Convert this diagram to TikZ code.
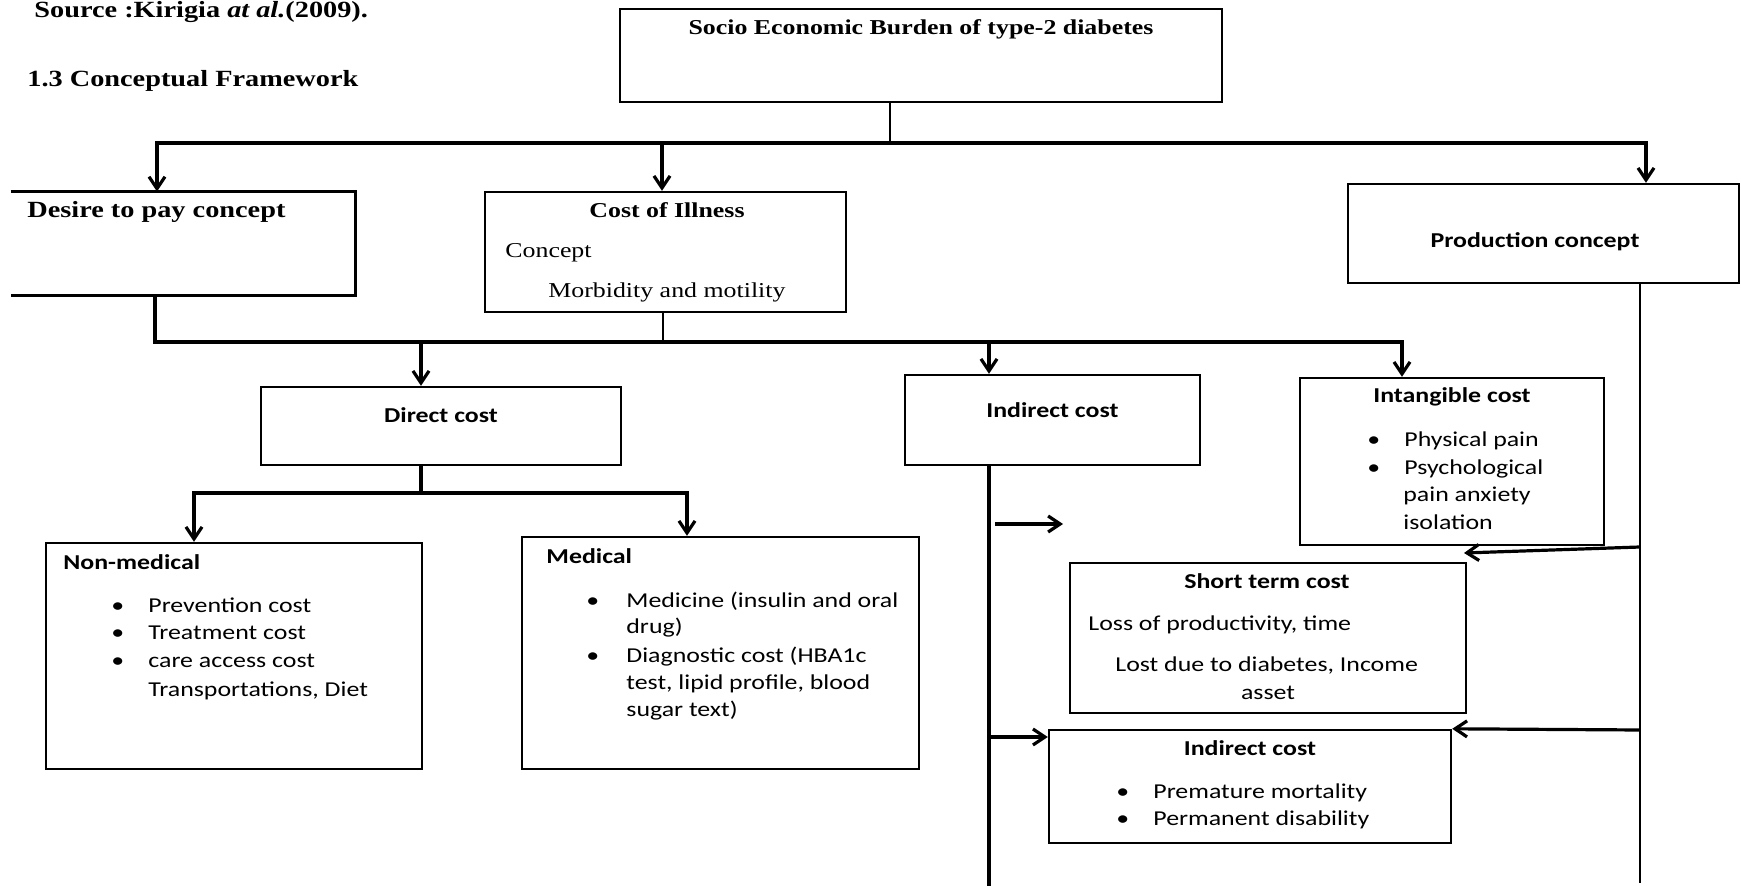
\documentclass[tikz,border=0pt]{standalone}
\usepackage{fontspec}
\setmainfont{Liberation Serif}[FakeStretch=1.22]
\setsansfont{Carlito}[FakeStretch=1.22]
\usetikzlibrary{arrows.meta,fit}
\tikzset{bx/.style={draw, line width=1.2pt, inner sep=0pt}}
\tikzset{ln/.style={draw, line width=1.8pt}}
\tikzset{tn/.style={draw, line width=1.2pt}}
\tikzset{ar/.style={draw, line width=1.6pt, line join=miter,
  -{Straight Barb[length=6pt,width=8pt]}}}
\tikzset{hd/.style={inner sep=0pt, font=\bfseries\fontsize{11.6}{14}\selectfont}}
\tikzset{sr/.style={inner sep=0pt, font=\fontsize{10.6}{12}\selectfont}}
\tikzset{srb/.style={inner sep=0pt, font=\bfseries\fontsize{10.6}{12}\selectfont}}
\tikzset{sf/.style={inner sep=0pt, font=\sffamily\fontsize{10.6}{12}\selectfont}}
\tikzset{sfb/.style={inner sep=0pt, font=\sffamily\bfseries\fontsize{10.6}{12}\selectfont}}
\newcommand{\itmdot}{\makebox[18.5pt][l]{\textbullet}}

\begin{document}
\begin{tikzpicture}[x=0.5pt, y=-0.5pt]
\useasboundingbox (0,0) rectangle (1741,886);
%% headings
\node (src) at (34,13) [hd, anchor=mid west] {Source :Kirigia \textit{at al.}(2009).};
\node (frame) at (27,82) [hd, anchor=mid west] {1.3 Conceptual Framework};
%% first level
\node (top) [bx, fit={(620,9) (1222,102)}] {};
\node (topT) at (921,30) [srb, anchor=mid] {Socio Economic Burden of type-2 diabetes};
\node (desire) [inner sep=0pt, fit={(11,192) (355,295)}] {};
\draw [tn] (desire.north west) -- (desire.north east) -- (desire.south east) -- (desire.south west);
\node (desireT) at (27,213) [hd, anchor=mid west] {Desire to pay concept};
\node (cost) [bx, fit={(485,192) (846,312)}] {};
\node (costT) at (667,213) [srb, anchor=mid] {Cost of Illness};
\node (costA) at (505,253) [sr, anchor=mid west] {Concept};
\node (costB) at (548,293) [sr, anchor=mid west] {Morbidity and motility};
\node (prod) [bx, fit={(1348,184) (1739,283)}] {};
\node (prodT) at (1535,243) [sfb, anchor=mid] {Production concept};
%% second level
\node (direct) [bx, fit={(261,387) (621,465)}] {};
\node (directT) at (441,418) [sfb, anchor=mid] {Direct cost};
\node (indirect) [bx, fit={(905,375) (1200,465)}] {};
\node (indirectT) at (986,413) [sfb, anchor=mid west] {Indirect cost};
\node (intang) [bx, fit={(1300,378) (1604,545)}] {};
\node (intangT) at (1452,398) [sfb, anchor=mid] {Intangible cost};
\node (intang1) at (1367,442) [sf, anchor=mid west] {\itmdot Physical pain};
\node (intang2) at (1367,470) [sf, anchor=mid west] {\itmdot Psychological};
\node (intang3) at (1403,497) [sf, anchor=mid west] {pain anxiety};
\node (intang4) at (1403,525) [sf, anchor=mid west] {isolation};
%% third level
\node (nonmed) [bx, fit={(46,543) (422,769)}] {};
\node (nonmedT) at (63,565) [sfb, anchor=mid west] {Non-medical};
\node (nonmed1) at (111,608) [sf, anchor=mid west] {\itmdot Prevention cost};
\node (nonmed2) at (111,635) [sf, anchor=mid west] {\itmdot Treatment cost};
\node (nonmed3) at (111,663) [sf, anchor=mid west] {\itmdot care access cost};
\node (nonmed4) at (148,692) [sf, anchor=mid west] {Transportations, Diet};
\node (medical) [bx, fit={(522,537) (919,769)}] {};
\node (medicalT) at (546,559) [sfb, anchor=mid west] {Medical};
\node (medical1) at (586,603) [sf, anchor=mid west] {\makebox[20pt][l]{\textbullet}Medicine (insulin and oral};
\node (medical2) at (626,629) [sf, anchor=mid west] {drug)};
\node (medical3) at (586,658) [sf, anchor=mid west] {\makebox[20pt][l]{\textbullet}Diagnostic cost (HBA1c};
\node (medical4) at (626,685) [sf, anchor=mid west] {test, lipid profile, blood};
\node (medical5) at (626,712) [sf, anchor=mid west] {sugar text)};
\node (short) [bx, fit={(1070,563) (1466,713)}] {};
\node (shortT) at (1267,584) [sfb, anchor=mid] {Short term cost};
\node (short1) at (1088,626) [sf, anchor=mid west] {Loss of productivity, time};
\node (short2) at (1115,667) [sf, anchor=mid west] {Lost due to diabetes, Income};
\node (short3) at (1268,695) [sf, anchor=mid] {asset};
\node (indir2) [bx, fit={(1049,730) (1451,843)}] {};
\node (indir2T) at (1250,751) [sfb, anchor=mid] {Indirect cost};
\node (indir21) at (1116,794) [sf, anchor=mid west] {\itmdot Premature mortality};
\node (indir22) at (1116,821) [sf, anchor=mid west] {\itmdot Permanent disability};
%% connectors
\coordinate (b0) at (890,143);
\coordinate (b1) at (157,143);
\coordinate (b2) at (1646,143);
\coordinate (b3) at (662,143);
\draw [tn] (top.south -| b0) -- (b0);
\draw [ar] (b0) -- (b1) -- (b1 |- desire.north);
\draw [ar] (b0) -- (b2) -- (b2 |- prod.north);
\draw [ar] (b3) -- (b3 |- cost.north);
%%
\coordinate (c0) at (663,342);
\coordinate (c1) at (155,342);
\coordinate (c2) at (1402,342);
\coordinate (c3) at (421,342);
\coordinate (c4) at (989,342);
\draw [tn] (cost.south -| c0) -- (c0);
\draw [ar] (desire.south -| c1) -- (c1) -- (c2) -- (c2 |- intang.north);
\draw [ar] (c3) -- (c3 |- direct.north);
\draw [ar] (c4) -- (c4 |- indirect.north);
%%
\coordinate (d0) at (421,493);
\coordinate (d1) at (194,493);
\coordinate (d2) at (687,493);
\draw [ar] (direct.south -| d0) -- (d0) -- (d1) -- (d1 |- nonmed.north);
\draw [ar] (d0) -- (d2) -- (d2 |- medical.north);
%%
\coordinate (e0) at (989,886);
\coordinate (e1) at (995,524);
\coordinate (e2) at (1063,524);
\coordinate (e3) at (989,737);
\draw [ln] (indirect.south -| e0) -- (e0);
\draw [ar] (e1) -- (e2);
\draw [ar] (e3) -- (e3 -| indir2.west);
%%
\coordinate (f0) at (1640,883);
\coordinate (f1) at (1640,547);
\coordinate (f2) at (1464,553);
\coordinate (f3) at (1640,730);
\draw [tn] (prod.south -| f0) -- (f0);
\draw [ar] (f1) -- (f2);
\draw [ar] (f3) -- (indir2.north east);
\end{tikzpicture}
\end{document}
